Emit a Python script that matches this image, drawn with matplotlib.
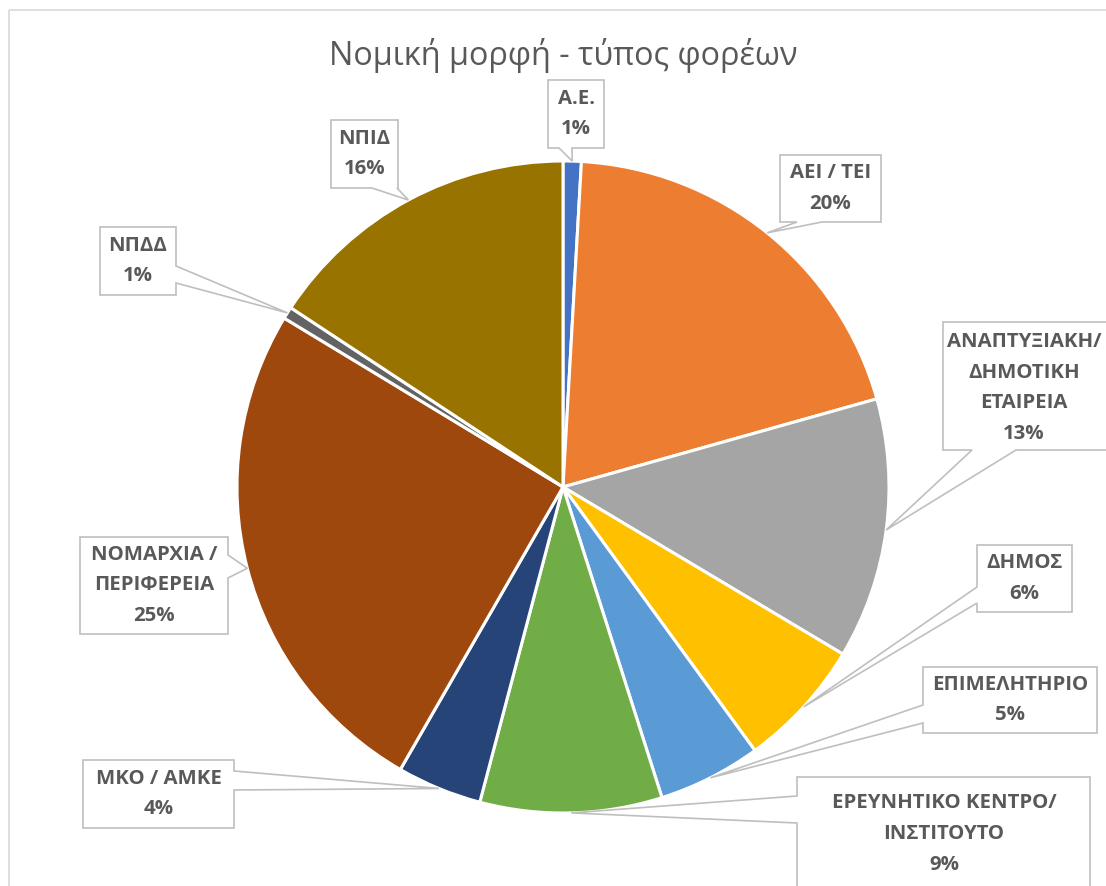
import matplotlib.pyplot as plt
from matplotlib.patches import Polygon, Rectangle
import numpy as np

plt.rcParams["font.family"] = ["Open Sans", "DejaVu Sans"]

W, H = 1106, 886

# --- data (share of bodies, %) ---
labels = ["A.E.", "ΑΕΙ / ΤΕΙ", "ΑΝΑΠΤΥΞΙΑΚΗ/\nΔΗΜΟΤΙΚΗ\nΕΤΑΙΡΕΙΑ", "ΔΗΜΟΣ",
          "ΕΠΙΜΕΛΗΤΗΡΙΟ", "ΕΡΕΥΝΗΤΙΚΟ ΚΕΝΤΡΟ/\nΙΝΣΤΙΤΟΥΤΟ", "ΜΚΟ / ΑΜΚΕ",
          "ΝΟΜΑΡΧΙΑ /\nΠΕΡΙΦΕΡΕΙΑ", "ΝΠΔΔ", "ΝΠΙΔ"]
values = [0.9, 19.7, 12.9, 6.4, 5.1, 9.0, 4.2, 25.3, 0.6, 15.7]
colors = ["#4472C4", "#ED7D31", "#A5A5A5", "#FFC000", "#5B9BD5",
          "#70AD47", "#264478", "#9E480E", "#636363", "#997300"]

# callout boxes in pixels: x0, y0, x1, y1, side of pointer, notch start, notch end
boxes = [
    (548, 80, 604, 148, "bottom", 559, 572),
    (780, 155, 881, 222, "bottom", 797, 822),
    (943, 322, 1112, 450, "bottom", 972, 1016),
    (977, 545, 1072, 612, "left", 587, 603),
    (923, 667, 1097, 733, "left", 705, 723),
    (797, 777, 1090, 900, "left", 796, 823),
    (83, 760, 234, 828, "right", 771, 790),
    (80, 537, 228, 634, "right", 555, 578),
    (100, 227, 176, 295, "right", 266, 283),
    (331, 120, 398, 188, "bottom", 372, 397),
]
text_xy = [None, None, (1024, 388), None, None, (944, 834), None, None, None, None]

cx, cy, R = 563, 487, 326
grey_txt = "#595959"
edge = "#BFBFBF"

fig = plt.figure(figsize=(W / 100, H / 100), dpi=100)
ax = fig.add_axes([0, 0, 1, 1])

wedges, _ = ax.pie(values, colors=colors, startangle=-90, counterclock=True,
                   center=(cx, cy), radius=R,
                   wedgeprops=dict(edgecolor="white", linewidth=2.2))
ax.set_xlim(0, W)
ax.set_ylim(H, 0)
ax.axis("off")

# chart area border
ax.add_patch(Rectangle((9, 10), W + 20, H + 20, fill=False, edgecolor="#D9D9D9",
                       linewidth=1.2, zorder=0))

ax.text(cx, 55, "Νομική μορφή - τύπος φορέων", ha="center", va="center",
        fontsize=23.3, color=grey_txt)

total = sum(values)
for w, lab, v, b, txy in zip(wedges, labels, values, boxes, text_xy):
    mid = np.deg2rad((w.theta1 + w.theta2) / 2)
    tip = (cx + R * np.cos(mid), cy + R * np.sin(mid))
    x0, y0, x1, y1, side, n0, n1 = b
    if side == "bottom":
        pts = [(x0, y0), (x1, y0), (x1, y1), (n1, y1), tip, (n0, y1), (x0, y1)]
    elif side == "left":
        pts = [(x0, y0), (x1, y0), (x1, y1), (x0, y1), (x0, n1), tip, (x0, n0)]
    else:
        pts = [(x0, y0), (x1, y0), (x1, n0), tip, (x1, n1), (x1, y1), (x0, y1)]
    ax.add_patch(Polygon(pts, closed=True, facecolor="white", edgecolor=edge,
                         linewidth=1.2, zorder=3))
    tx, ty = txy if txy else ((x0 + x1) / 2, (y0 + y1) / 2)
    pct = round(v / total * 100)
    ax.text(tx, ty, f"{lab}\n{pct}%", ha="center", va="center", fontsize=14.7,
            fontweight="bold", color=grey_txt, linespacing=1.7, zorder=4)

fig.savefig("out.png", dpi=100)
